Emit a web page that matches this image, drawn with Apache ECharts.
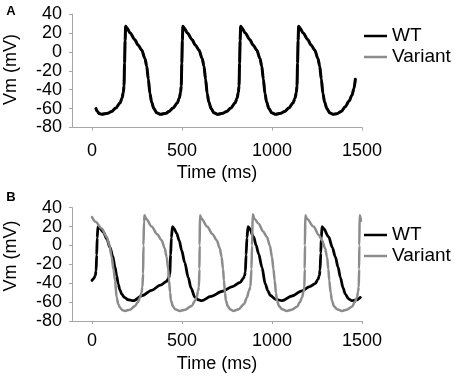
<!DOCTYPE html>
<html>
<head>
<meta charset="utf-8">
<script src="https://cdn.jsdelivr.net/npm/echarts@6/dist/echarts.min.js"></script>
<style>
html, body { margin: 0; padding: 0; background: #fff; }
#chart { width: 454px; height: 380px; }
</style>
</head>
<body>
<div id="chart"></div>
<script>
var seriesNames = ['WT', 'Variant'];
var xTicks = [0, 500, 1000, 1500];

// panel A, [time ms, Vm mV]
var wtA = [
  [22, -60], [30, -63], [40, -65.3], [54, -66], [87, -65], [109, -63], [132, -59.5], [156, -54],
  [167, -49], [174, -43], [178, -36], [181, -12], [184, 12], [187, 27],
  [195, 25], [212, 20], [237, 13], [257, 7], [276, 2], [294, -7], [304, -15], [313, -29],
  [322, -44], [331, -53], [344, -60], [359, -64.5], [382, -66],
  [412, -65], [427, -63], [450, -59.5], [474, -54], [485, -49], [492, -43], [496, -36],
  [499, -12], [502, 12], [505, 27],
  [513, 25], [530, 20], [555, 13], [575, 7], [594, 2], [612, -7], [622, -15], [631, -29],
  [640, -44], [649, -53], [662, -60], [677, -64.5], [700, -66],
  [726, -65], [748, -63], [771, -59.5], [795, -54], [806, -49], [813, -43], [817, -36],
  [820, -12], [823, 12], [826, 27],
  [834, 25], [851, 20], [876, 13], [896, 7], [915, 2], [933, -7], [943, -15], [952, -29],
  [961, -44], [970, -53], [983, -60], [998, -64.5], [1021, -66],
  [1048, -65], [1070, -63], [1093, -59.5], [1117, -54], [1128, -49], [1135, -43], [1139, -36],
  [1142, -12], [1145, 12], [1148, 27],
  [1156, 25], [1173, 20], [1198, 13], [1218, 7], [1237, 2], [1255, -7], [1265, -15], [1274, -29],
  [1283, -44], [1292, -53], [1305, -60], [1320, -64.5], [1340, -66],
  [1360, -65.5], [1385, -63], [1407, -58], [1428, -52], [1444, -46], [1455, -39], [1463, -29]
];
// in A the variant trace lies under the WT trace
var variantA = wtA;

// panel B
var wtB = [
  [0, -37], [10, -35], [18, -32], [23, -27], [26, -10], [29, 8], [33, 20],
  [40, 19], [63, 14], [82, 7], [100, -2], [115, -11], [128, -23], [137, -32], [146, -41],
  [155, -47], [165, -51.5], [180, -55], [202, -57.5], [230, -58.5],
  [280, -53], [331, -47.5], [380, -42], [415, -38], [425, -35], [432, -30], [437, -10],
  [441, 8], [447, 20],
  [455, 18], [470, 13], [485, 5], [498, -5], [515, -18], [535, -34], [550, -45], [572, -55],
  [590, -57.5], [609, -58.5],
  [660, -54], [725, -48.5], [780, -43.5], [824, -39], [840, -35], [848, -32], [852, -28],
  [856, -10], [861, 8], [867, 20],
  [875, 18], [898, 9], [912, 0], [926, -9], [944, -23], [963, -41], [977, -48], [991, -53],
  [1020, -57], [1056, -58.5],
  [1110, -53.5], [1167, -48], [1210, -43.5], [1240, -40.5], [1255, -36], [1263, -32],
  [1267, -26], [1271, -8], [1274, 8], [1278, 20],
  [1286, 18], [1315, 9], [1335, -2], [1352, -12], [1367, -23], [1380, -34], [1395, -45],
  [1407, -51.5], [1425, -56.5], [1444, -58.5], [1470, -57.5], [1491, -55]
];
var variantB = [
  [0, 30], [20, 25], [54, 18], [82, 9], [97, 0], [109, -12], [120, -26], [128, -37],
  [137, -55], [146, -62], [156, -66], [170, -68.5], [183, -69.3],
  [210, -68], [239, -64], [255, -60], [267, -55], [275, -50], [280, -44], [284, -30],
  [286, 0], [289, 25], [292, 32],
  [302, 28], [331, 20], [362, 12], [387, 5.5], [404, -3], [415, -12.3], [423, -25], [428, -37],
  [434, -50], [439, -58.6], [450, -64.5], [461, -67.5], [489, -69.3],
  [517, -68], [554, -64], [574, -58], [581, -55], [590, -48], [594, -44], [597, -25],
  [598, 0], [600, 32],
  [610, 28], [639, 20], [670, 12], [693, 5.5], [710, -3], [720, -12.3], [728, -25], [733, -37],
  [739, -50], [744, -58.6], [755, -64.5], [766, -67.5], [785, -69.3],
  [815, -67.5], [845, -62], [861, -55], [872, -48], [880, -44], [886, -25], [889, 0], [893, 33],
  [903, 28], [926, 23], [950, 15], [972, 9], [988, 0], [1000, -12.3], [1008, -25], [1015, -37],
  [1022, -50], [1028, -58.6], [1040, -64.5], [1056, -67.5], [1083, -69.3],
  [1110, -68], [1139, -65], [1155, -60], [1167, -55], [1175, -49], [1180, -44], [1182, -25],
  [1183, 0], [1185, 32],
  [1195, 28], [1231, 20], [1260, 11], [1278, 5.5], [1295, -3], [1306, -12.3], [1313, -25],
  [1318, -37], [1326, -50], [1333, -58.6], [1345, -64.5], [1361, -67.5], [1389, -69.3],
  [1415, -68], [1444, -65], [1460, -60], [1472, -55], [1478, -49], [1482, -44], [1484, -25],
  [1485, 0], [1487, 32], [1492, 30], [1494, 26]
];

var FONT = 'Liberation Sans, Arial, sans-serif',
  AXIS_COLOR = '#a6a6a6',
  WT_COLOR = '#000000',
  VAR_COLOR = '#8c8c8c';

function xAxisOpt(idx, labelMargin, nameGap) {
  return {
    type: 'value',
    gridIndex: idx,
    min: -111,
    max: 1500,
    name: 'Time (ms)',
    nameLocation: 'middle',
    nameGap: nameGap,
    nameTextStyle: { fontFamily: FONT, fontSize: 18, color: '#000' },
    axisLine: { show: true, onZero: false, lineStyle: { color: AXIS_COLOR, width: 1 } },
    axisTick: { show: true, length: 3, customValues: xTicks, lineStyle: { color: AXIS_COLOR } },
    axisLabel: {
      customValues: xTicks,
      margin: labelMargin,
      fontFamily: FONT,
      fontSize: 18,
      color: '#000',
      formatter: function (v) { return String(v); }
    },
    splitLine: { show: false }
  };
}

function yAxisOpt(idx) {
  return {
    type: 'value',
    gridIndex: idx,
    min: -80,
    max: 40,
    interval: 20,
    axisLine: { show: true, onZero: false, lineStyle: { color: AXIS_COLOR, width: 1 } },
    axisTick: { show: true, length: 3, lineStyle: { color: AXIS_COLOR } },
    axisLabel: { margin: 10, fontFamily: FONT, fontSize: 18, color: '#000' },
    splitLine: { show: false }
  };
}

function legendOpt(top) {
  return {
    orient: 'vertical',
    left: 364,
    top: top,
    padding: 0,
    itemWidth: 23,
    itemHeight: 2.5,
    itemGap: 2,
    icon: 'rect',
    selectedMode: false,
    data: seriesNames,
    textStyle: { fontFamily: FONT, fontSize: 19, lineHeight: 19, color: '#000' }
  };
}

function lineSeries(name, idx, data, color, width, z) {
  return {
    name: name,
    type: 'line',
    xAxisIndex: idx,
    yAxisIndex: idx,
    data: data,
    showSymbol: false,
    symbol: 'none',
    smooth: 0.3,
    smoothMonotone: 'x',
    z: z,
    itemStyle: { color: color },
    lineStyle: { color: color, width: width, cap: 'round', join: 'round' }
  };
}

function textEl(text, x, y, size, bold, rotation) {
  return {
    type: 'text',
    x: x,
    y: y,
    rotation: rotation || 0,
    style: {
      text: text,
      fontFamily: FONT,
      fontSize: size,
      fontWeight: bold ? 'bold' : 'normal',
      fill: '#000',
      align: 'center',
      verticalAlign: 'middle'
    }
  };
}

function initChart(dom) {
  var myChart = echarts.init(dom, null, { renderer: 'canvas' }),
    option = {
      animation: false,
      backgroundColor: '#fff',
      grid: [
        { left: 72, top: 14, width: 290, height: 113.5 },
        { left: 72, top: 207.7, width: 290, height: 113.3 }
      ],
      xAxis: [xAxisOpt(0, 14.5, 36.5), xAxisOpt(1, 11, 34)],
      yAxis: [yAxisOpt(0), yAxisOpt(1)],
      legend: [legendOpt(26.5), legendOpt(225.5)],
      graphic: [
        textEl('A', 11, 11.5, 13, true),
        textEl('B', 11, 197.5, 13, true),
        textEl('Vm (mV)', 11, 69.5, 18, false, Math.PI / 2),
        textEl('Vm (mV)', 11, 256, 18, false, Math.PI / 2)
      ],
      series: [
        lineSeries('Variant', 0, variantA, VAR_COLOR, 2.5, 2),
        lineSeries('WT', 0, wtA, WT_COLOR, 3, 3),
        lineSeries('WT', 1, wtB, WT_COLOR, 2.8, 2),
        lineSeries('Variant', 1, variantB, VAR_COLOR, 2.5, 3)
      ]
    };
  myChart.setOption(option, true);
  window.addEventListener('resize', function () {
    myChart.resize();
  });
}

initChart(document.getElementById('chart'));
</script>
</body>
</html>
